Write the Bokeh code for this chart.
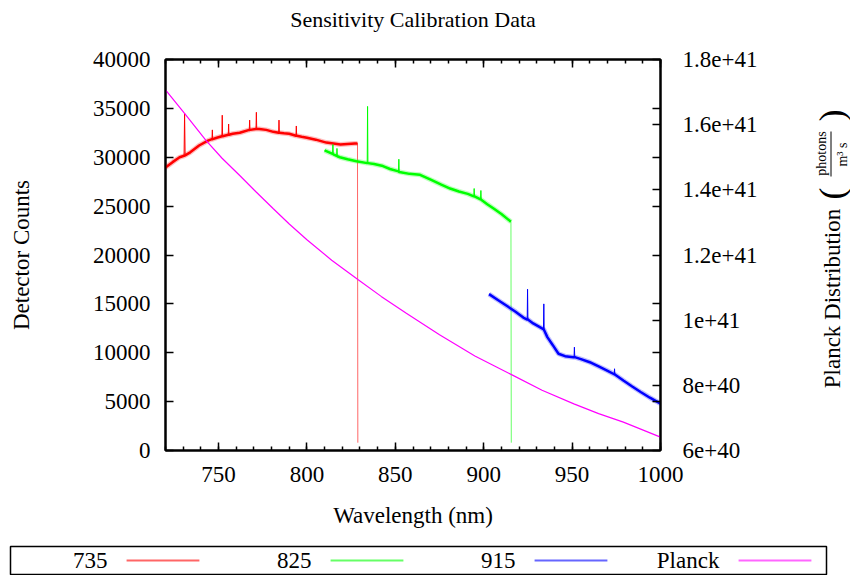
import math
from bokeh.plotting import figure
from bokeh.models import Range1d, LinearAxis, FixedTicker
from bokeh.layouts import column, row
from bokeh.core.properties import value
from bokeh.embed import file_html
from bokeh.resources import INLINE

FONT = "Liberation Serif"

# ---------------- data ----------------
red_nm = [720, 724, 728, 730.5, 730.8, 731.1, 734, 739, 744, 746.3, 746.5, 746.7,
          749, 751.9, 752.1, 752.3, 755.5, 755.7, 755.9, 758, 762, 767.4, 767.6,
          767.8, 771.2, 771.4, 771.6, 773, 777, 781, 784.0, 784.2, 784.4, 787, 790,
          793.8, 794.0, 794.2, 797, 800, 805, 811, 815, 819, 823, 827, 828.6, 828.8]
red_counts = [28950, 29500, 30000, 30150, 34500, 30200, 30500, 31200, 31700, 31850,
              32800, 31850, 32000, 32150, 34300, 32150, 32300, 33400, 32300, 32400,
              32500, 32800, 33800, 32800, 32900, 34600, 32900, 32900, 32800, 32600,
              32500, 33800, 32500, 32450, 32400, 32200, 33200, 32200, 32100, 32000,
              31800, 31500, 31400, 31300, 31350, 31400, 31400, 800]
red_spikes = [730.8, 746.5, 752.1, 755.7, 767.6, 771.4, 784.2, 794.0]

green_nm = [810, 814.5, 814.7, 814.9, 816.8, 817.0, 817.2, 818.6, 823, 828, 834.1,
            834.3, 834.5, 838, 843, 847, 851.8, 852.0, 852.2, 858, 864, 870, 876,
            881, 886, 891, 894.4, 894.6, 894.8, 898.2, 898.4, 898.6, 902, 906, 910,
            915.4, 915.6]
green_counts = [30700, 30350, 31300, 30300, 30150, 30900, 30100, 30000, 29800, 29600,
                29400, 35200, 29400, 29300, 29100, 28800, 28550, 29800, 28500, 28300,
                28200, 27700, 27200, 26800, 26500, 26250, 26000, 26800, 26000, 25700,
                26600, 25650, 25200, 24700, 24200, 23400, 800]
green_spikes = [814.7, 817.0, 834.3, 852.0, 894.6, 898.4]

blue_nm = [903, 908, 913, 918, 922.4, 924.6, 924.8, 925.0, 928, 932, 933.8, 934.0,
           934.2, 936, 939, 942.3, 946, 950.8, 951.1, 951.3, 951.5, 955, 960, 965,
           969.8, 973.8, 974.0, 974.2, 979, 984, 989, 994, 1000]
blue_counts = [16000, 15400, 14800, 14200, 13600, 13400, 16500, 13400, 13000, 12600,
               12400, 15000, 12300, 11600, 10800, 9900, 9650, 9550, 9550, 10570, 9550,
               9350, 9030, 8600, 8180, 7800, 8360, 7780, 7160, 6550, 5960, 5400, 4800]
blue_spikes = [924.8, 934.0, 951.3, 974.0]

planck_nm = [720, 731, 743, 752, 762, 771, 781, 790, 800, 814, 829, 842, 856, 875,
             895, 916, 933, 951, 965, 979, 1000]
planck_val = [1.707e41, 1.633e41, 1.551e41, 1.497e41, 1.444e41, 1.395e41, 1.342e41,
              1.295e41, 1.247e41, 1.184e41, 1.124e41, 1.073e41, 1.022e41, 9.55e40,
              8.90e40, 8.32e40, 7.85e40, 7.43e40, 7.13e40, 6.87e40, 6.41e40]

x_ticks = [750, 800, 850, 900, 950, 1000]
x_minor = list(range(720, 1001, 10))
y_ticks = [0, 5000, 10000, 15000, 20000, 25000, 30000, 35000, 40000]
y2_ticks = [6e40, 8e40, 1e41, 1.2e41, 1.4e41, 1.6e41, 1.8e41]
y2_labels = ["6e+40", "8e+40", "1e+41", "1.2e+41", "1.4e+41", "1.6e+41", "1.8e+41"]

series_names = ["735", "825", "915", "Planck"]
series_colors = ["#ff0000", "#00ff00", "#0000ff", "#ff00ff"]
title_text = "Sensitivity Calibration Data"

# ---------------- title panel ----------------
tf = figure(width=810, height=40, x_range=Range1d(720, 1000), y_range=Range1d(40, 0),
            output_backend="svg", toolbar_location=None,
            x_axis_location=None, y_axis_location=None,
            min_border_left=165, min_border_right=150, min_border_top=0,
            min_border_bottom=0, outline_line_color=None)
tf.grid.visible = False
tf.text(x=[860], y=[19], text=[title_text], text_align="center", text_baseline="middle",
        text_font=value(FONT), text_font_size="22px", text_color="black")

# ---------------- main figure ----------------
p = figure(width=810, height=493, x_range=Range1d(720, 1000), y_range=Range1d(0, 40000),
           output_backend="svg", toolbar_location=None,
           min_border_left=165, min_border_right=150, min_border_top=19,
           min_border_bottom=83, background_fill_color="white",
           border_fill_color="white")
p.extra_y_ranges = {"planck": Range1d(6e40, 1.8e41)}
p.grid.visible = False
p.outline_line_color = "black"
p.outline_line_width = 2


def style_axis(ax):
    ax.axis_line_color = "black"
    ax.axis_line_width = 2
    ax.major_tick_line_color = "black"
    ax.minor_tick_line_color = "black"
    ax.major_tick_line_width = 1.5
    ax.minor_tick_line_width = 1.5
    ax.major_tick_in = 8
    ax.major_tick_out = 0
    ax.minor_tick_in = 4
    ax.minor_tick_out = 0
    ax.major_label_text_font = FONT
    ax.major_label_text_font_size = "23px"
    ax.major_label_text_color = "black"
    ax.axis_label_text_font = FONT
    ax.axis_label_text_font_style = "normal"
    ax.axis_label_text_font_size = "23px"
    ax.axis_label_text_color = "black"


xa = p.xaxis[0]
style_axis(xa)
xa.ticker = FixedTicker(ticks=x_ticks, minor_ticks=x_minor)
xa.major_label_overrides = {t: str(t) for t in x_ticks}
xa.major_label_standoff = 16
xa.axis_label = "Wavelength (nm)"
xa.axis_label_standoff = 18

ya = p.yaxis[0]
style_axis(ya)
ya.ticker = FixedTicker(ticks=y_ticks, minor_ticks=[])
ya.major_label_overrides = {t: str(t) for t in y_ticks}
ya.major_label_standoff = 15
ya.axis_label = "Detector Counts"
ya.axis_label_standoff = 56

# top mirror axis (ticks only)
top = LinearAxis()
style_axis(top)
top.ticker = FixedTicker(ticks=x_ticks, minor_ticks=x_minor)
top.major_label_overrides = {t: "" for t in x_ticks}
top.major_label_text_font_size = "0px"
top.major_label_standoff = 0
p.add_layout(top, "above")

# right axis (Planck) + mirror ticks of the left axis
lo, hi = 6e40, 1.8e41
mirror = []
for v in y_ticks:
    m = lo + v / 40000 * (hi - lo)
    if all(abs(m - t) > 1e38 for t in y2_ticks):
        mirror.append(m)
right = LinearAxis(y_range_name="planck")
style_axis(right)
right.ticker = FixedTicker(ticks=y2_ticks + mirror, minor_ticks=[])
ov = {t: l for t, l in zip(y2_ticks, y2_labels)}
ov.update({m: "" for m in mirror})
right.major_label_overrides = ov
right.major_label_standoff = 22
p.add_layout(right, "right")


def draw_series(xs, ys, spikes, color, drop):
    # thin trace through every reading (spikes included)
    end = len(xs) - 1 if drop else len(xs)
    p.line(xs[:end], ys[:end], line_color=color, line_width=1)
    # noisy band: same readings without the spike peaks, drawn wider
    bx = [x for x in xs[:end] if x not in spikes]
    by = [y for x, y in zip(xs[:end], ys[:end]) if x not in spikes]
    p.line(bx, by, line_color=color, line_width=5, line_alpha=0.25)
    p.line(bx, by, line_color=color, line_width=2.5)
    if drop:
        p.line(xs[-2:], ys[-2:], line_color=color, line_width=1, line_alpha=0.6)


draw_series(red_nm, red_counts, red_spikes, series_colors[0], True)
draw_series(green_nm, green_counts, green_spikes, series_colors[1], True)
draw_series(blue_nm, blue_counts, blue_spikes, series_colors[2], False)
p.line(planck_nm, planck_val, line_color=series_colors[3], line_width=1.2,
       y_range_name="planck")

# ---------------- right-hand axis title (rotated text, own panel) ----------------
side = figure(width=40, height=493, x_range=Range1d(810, 850), y_range=Range1d(450, 59),
              output_backend="svg", toolbar_location=None,
              x_axis_location=None, y_axis_location=None,
              min_border_left=0, min_border_right=0, min_border_top=19,
              min_border_bottom=83, outline_line_color=None)
side.grid.visible = False
tk = dict(angle=math.pi / 2, text_align="center", text_baseline="middle",
          text_font=value(FONT), text_color="black")
side.text(x=[832], y=[298], text=["Planck Distribution"], text_font_size="23px", **tk)
side.text(x=[831, 831], y=[193, 115], text=["(", ")"], text_font_size="36px", **tk)
side.text(x=[821], y=[153], text=["photons"], text_font_size="14px", **tk)
side.text(x=[842], y=[154], text=["m\u00b3 s"], text_font_size="14px", **tk)
side.segment(x0=[830.5], y0=[131], x1=[830.5], y1=[176], line_color="black", line_width=1)

# ---------------- legend box ----------------
lg = figure(width=850, height=42, x_range=Range1d(0, 4), y_range=Range1d(0, 1),
            output_backend="svg", toolbar_location=None,
            x_axis_location=None, y_axis_location=None,
            min_border_left=10, min_border_right=24, min_border_top=13,
            min_border_bottom=1)
lg.grid.visible = False
lg.outline_line_color = "black"
lg.outline_line_width = 1.5
idx = list(range(len(series_names)))
lg.text(x=[i + 0.475 for i in idx], y=[0.5] * 4, text=series_names,
        text_align="right", text_baseline="middle",
        text_font=value(FONT), text_font_size="23px", text_color="black")
lg.segment(x0=[i + 0.569 for i in idx], y0=[0.5] * 4,
           x1=[i + 0.926 for i in idx], y1=[0.5] * 4,
           line_color=series_colors, line_width=2, line_alpha=0.6)

layout = column(row(tf, spacing=0), row(p, side, spacing=0), row(lg, spacing=0), spacing=0)
open("out.html", "w").write(file_html(layout, INLINE))
